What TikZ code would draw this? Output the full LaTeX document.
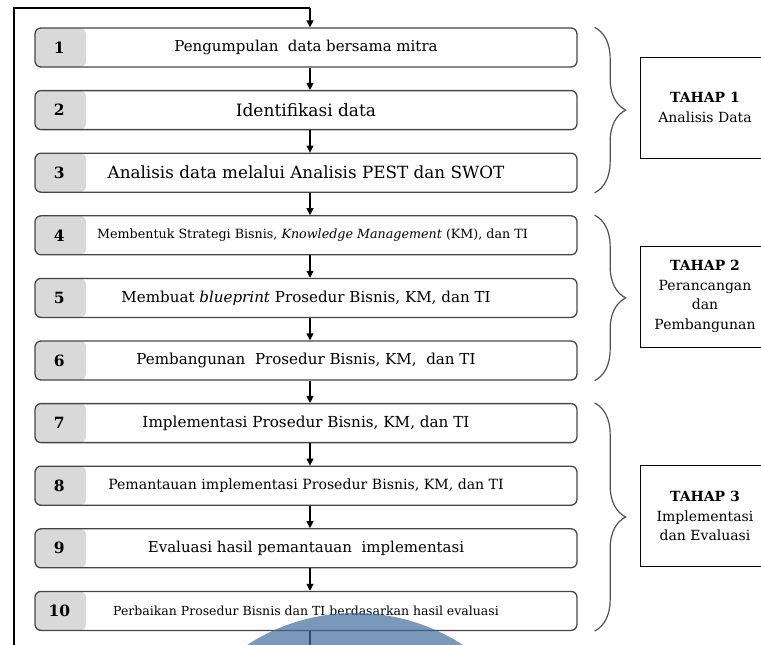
\documentclass[tikz,border=0pt]{standalone}
\usepackage{fontspec}
\setmainfont{DejaVu Serif}
\usetikzlibrary{arrows.meta, decorations.pathreplacing}
\definecolor{tabgrey}{RGB}{217,217,217}
\definecolor{boxline}{RGB}{70,70,70}
\definecolor{bracegrey}{RGB}{80,80,80}
\definecolor{stamp}{RGB}{65,109,156}
\tikzset{>={Triangle[length=7pt,width=7pt]}}
\tikzset{
  stepbox/.style={draw=boxline, line width=1.3pt, rounded corners=6pt,
    minimum width=542pt, minimum height=39pt, inner sep=0pt,
    path picture={\fill[tabgrey] (path picture bounding box.south west)
      rectangle ([xshift=51pt]path picture bounding box.north west);}},
  numtxt/.style={font=\fontsize{15.5}{18}\selectfont\bfseries},
  tahapbox/.style={draw, line width=0.9pt, minimum width=130pt, minimum height=101pt,
    align=center, font=\fontsize{14}{19.5}\selectfont},
  phase/.style={decorate, decoration={brace, amplitude=31pt}, draw=bracegrey, line width=1.2pt},
  flow/.style={line width=1.1pt}
}

\begin{document}
\begin{tikzpicture}[x=1pt, y=-1pt]
    \useasboundingbox (0,0) rectangle (761,645);
    \clip (0,0) rectangle (761,645);
    \node[stepbox, font=\fontsize{15}{18}\selectfont] (s1) at (306,47.5) {Pengumpulan\ \ data bersama mitra};
    \node[stepbox, font=\fontsize{17}{20}\selectfont] (s2) at (306,110.1) {Identifikasi data};
    \node[stepbox, font=\fontsize{16.8}{19}\selectfont] (s3) at (306,172.7) {Analisis data melalui Analisis PEST dan SWOT};
    \node[stepbox, font=\fontsize{12.7}{15}\selectfont] (s4) at (306,235.3) {\hspace*{13pt}Membentuk Strategi Bisnis, \textit{Knowledge Management} (KM), dan TI};
    \node[stepbox, font=\fontsize{15.1}{17}\selectfont] (s5) at (306,297.9) {Membuat \textit{blueprint} Prosedur Bisnis, KM, dan TI};
    \node[stepbox, font=\fontsize{15.1}{17}\selectfont] (s6) at (306,360.5) {Pembangunan\ \ Prosedur Bisnis, KM,\ \ dan TI};
    \node[stepbox, font=\fontsize{15.2}{17}\selectfont] (s7) at (306,423.1) {Implementasi Prosedur Bisnis, KM, dan TI};
    \node[stepbox, font=\fontsize{14.1}{16}\selectfont] (s8) at (306,485.7) {Pemantauan implementasi Prosedur Bisnis, KM, dan TI};
    \node[stepbox, font=\fontsize{15}{17}\selectfont] (s9) at (306,548.3) {Evaluasi hasil pemantauan\ \ implementasi};
    \node[stepbox, font=\fontsize{12.5}{14}\selectfont] (s10) at (306,610.9) {Perbaikan Prosedur Bisnis dan TI berdasarkan hasil evaluasi};
    \foreach \i in {1,...,10}
        \node[numtxt] (n\i) at ([xshift=25pt]s\i.west) {\i};
    \foreach \i [evaluate=\i as \j using int(\i+1)] in {1,...,9}
        \draw[flow, ->] ([xshift=4pt]s\i.south) -- ([xshift=4pt]s\j.north);
    \coordinate (looptop) at (14,8);
    \coordinate (loopbot) at (14,650);
    \coordinate (feedin) at (310,8);
    \coordinate (feedout) at (310,650);
    \draw[flow] (loopbot) -- (looptop) -- (feedin);
    \draw[flow, ->] (feedin) -- ([xshift=4pt]s1.north);
    \draw[flow] ([xshift=4pt]s10.south) -- (feedout);
    \draw[phase] ([xshift=17pt]s1.north east) -- ([xshift=17pt]s3.south east);
    \draw[phase] ([xshift=17pt]s4.north east) -- ([xshift=17pt]s6.south east);
    \draw[phase] ([xshift=17pt]s7.north east) -- ([xshift=17pt]s10.south east);
    \node[tahapbox] (t1) at (705,107.5) {\textbf{TAHAP 1}\\Analisis Data};
    \node[tahapbox] (t2) at (705,296.5) {\textbf{TAHAP 2}\\Perancangan\\dan\\Pembangunan};
    \node[tahapbox] (t3) at (705,516) {\textbf{TAHAP 3}\\Implementasi\\dan Evaluasi};
    \fill[stamp, fill opacity=0.7] (355,811) circle (198);
\end{tikzpicture}
\end{document}
